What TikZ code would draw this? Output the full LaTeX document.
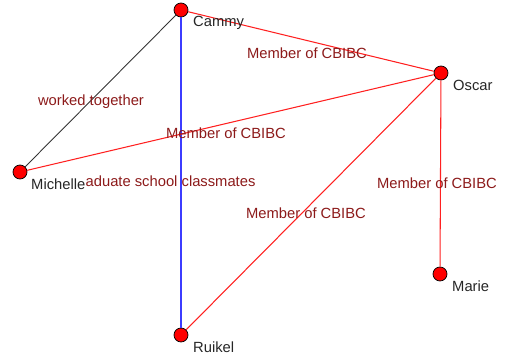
\documentclass[tikz,border=0pt]{standalone}
\usepackage{fontspec}
\setmainfont{Liberation Sans}
\definecolor{linkred}{RGB}{255,32,32}
\definecolor{linkblue}{RGB}{60,60,255}
\definecolor{tiered}{RGB}{140,26,26}
\tikzset{
  actor/.style={circle,draw=black,fill=red,minimum size=0.28cm,inner sep=0pt,line width=0.4pt},
  actorname/.style={anchor=west,inner sep=0.5pt,text=black!85},
  tielabel/.style={inner sep=0pt,text=tiered},
  member/.style={linkred,line width=0.6pt},
}
\begin{document}
\begin{tikzpicture}[x=0.02cm,y=-0.02cm,font=\fontsize{8.4}{10}\selectfont]
    \useasboundingbox (0,0) rectangle (505,361);
    \path (181,10) node[actor](cammy){} (441,73) node[actor](oscar){} (20,172) node[actor](michelle){}
      (440,274) node[actor](marie){} (181,335) node[actor](ruikel){};
    \draw[black!80,line width=0.5pt] (cammy) -- (michelle);
    \draw[linkblue,line width=0.6pt] (cammy) -- (ruikel);
    \draw[member] (cammy) -- (oscar);
    \draw[member] (michelle) -- (oscar);
    \draw[member] (ruikel) -- (oscar);
    \draw[member] (marie) -- (oscar);
    \path (307,53) node[tielabel](cbibc1){Member of CBIBC}
      (91,102) node[tielabel](worked){worked together}
      (226,133) node[tielabel](cbibc2){Member of CBIBC}
      (164,183) node[tielabel](classmates){graduate school classmates}
      (306,213) node[tielabel](cbibc3){Member of CBIBC}
      (437,183) node[tielabel](cbibc4){Member of CBIBC};
    \path (cammy) ++(11,13) node[actorname](cammyname){Cammy};
    \path (oscar) ++(11,12) node[actorname](oscarname){Oscar};
    \path (michelle) ++(10,12) node[actorname,fill=white](michellename){Michelle};
    \path (marie) ++(11,12) node[actorname](mariename){Marie};
    \path (ruikel) ++(11,12) node[actorname](ruikelname){Ruikel};
  \end{tikzpicture}
\end{document}
